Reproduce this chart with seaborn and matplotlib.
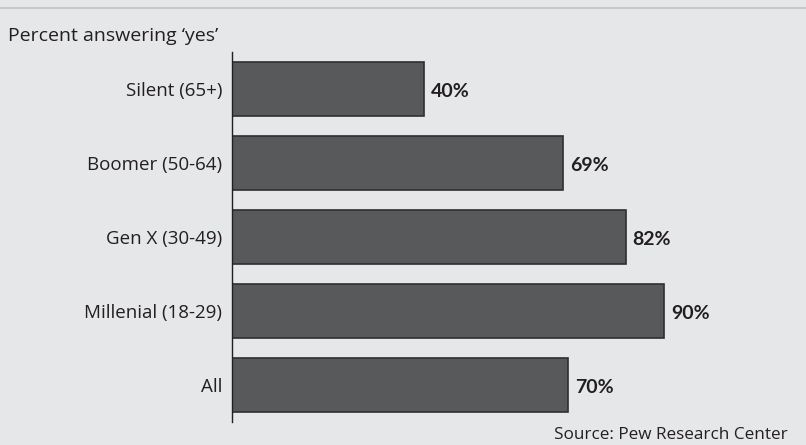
import matplotlib
matplotlib.use("Agg")
import matplotlib.pyplot as plt
import seaborn as sns
import pandas as pd
from matplotlib.lines import Line2D

categories = ["Silent (65+)", "Boomer (50-64)", "Gen X (30-49)", "Millenial (18-29)", "All"]
values = [40, 69, 82, 90, 70]
value_labels = ["40%", "69%", "82%", "90%", "70%"]

bg = "#e6e7e8"
sns.set_theme(style="white")
plt.rcParams["font.family"] = ["Open Sans", "DejaVu Sans"]

df = pd.DataFrame({"group": categories, "pct": values})

fig = plt.figure(figsize=(8.06, 4.45), dpi=100, facecolor=bg)
W, H = 806, 445
left, right, top, bottom = 232, 790, 52, 422
ax = fig.add_axes([left / W, 1 - bottom / H, (right - left) / W, (bottom - top) / H])
ax.set_facecolor(bg)

sns.barplot(data=df, x="pct", y="group", order=categories, color="#58595b",
            edgecolor="#2f2f30", linewidth=1.2, width=0.73, saturation=1, ax=ax)
for p in ax.patches:
    p.set_facecolor("#58595b")

xmax = (right - left) / 4.8
ax.set_xlim(0, xmax)
ax.set_ylim(4.5, -0.5)

for i, (v, lab) in enumerate(zip(values, value_labels)):
    ax.annotate(lab, xy=(v, i), xytext=(5, -1.5), textcoords="offset points",
                ha="left", va="center", fontsize=14, fontweight="bold",
                family=["Lato", "DejaVu Sans"], color="#231f20")

for s in ["top", "right", "bottom"]:
    ax.spines[s].set_visible(False)
ax.spines["left"].set_color("#231f20")
ax.spines["left"].set_linewidth(1.0)
ax.set_xticks([])
ax.set_xlabel("")
ax.set_ylabel("")
ax.tick_params(axis="y", length=0, pad=7, labelsize=13.5, labelcolor="#231f20")

fig.text(8 / W, 1 - 36 / H, "Percent answering \u2018yes\u2019", ha="left", va="center",
         fontsize=14, color="#231f20")
fig.text(788 / W, 1 - 435 / H, "Source: Pew Research Center", ha="right", va="center",
         fontsize=12.3, color="#231f20")
fig.add_artist(Line2D([0, 1], [1 - 8 / H, 1 - 8 / H], transform=fig.transFigure,
                      color="#c8c9ca", linewidth=1.5))

fig.savefig("out.png", dpi=100, facecolor=bg)
